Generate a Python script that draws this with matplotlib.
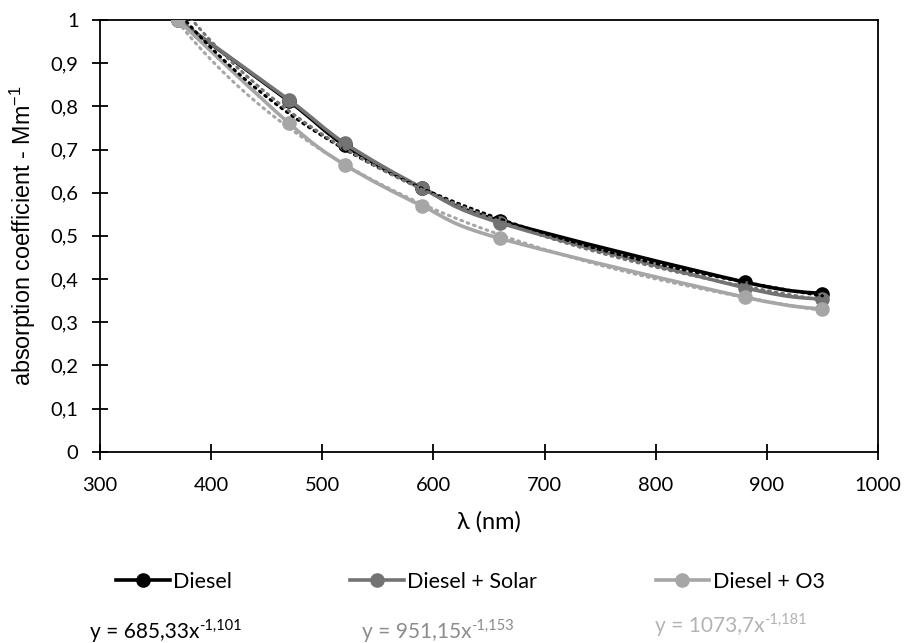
import matplotlib
matplotlib.use("Agg")
import matplotlib.pyplot as plt
from matplotlib.path import Path
from matplotlib.patches import PathPatch
from matplotlib.lines import Line2D
import numpy as np

plt.rcParams['font.family'] = ['Lato', 'DejaVu Sans']
plt.rcParams['mathtext.fontset'] = 'custom'
plt.rcParams['mathtext.rm'] = 'Liberation Sans'

wavelength = [370, 470, 520, 590, 660, 880, 950]
diesel = [1.0, 0.812, 0.710, 0.610, 0.535, 0.393, 0.366]
diesel_solar = [1.0, 0.815, 0.715, 0.611, 0.530, 0.380, 0.353]
diesel_o3 = [1.0, 0.761, 0.665, 0.569, 0.494, 0.358, 0.330]

series_names = ["Diesel", "Diesel + Solar", "Diesel + O3"]
fit_a = [685.33, 951.15, 1073.7]
fit_b = [-1.101, -1.153, -1.181]
fit_labels = ["685,33", "951,15", "1073,7"]
fit_exp_labels = ["-1,101", "-1,153", "-1,181"]

colors = ["#000000", "#737373", "#A6A6A6"]
eq_colors = ["#000000", "#8C8C8C", "#B3B3B3"]


def smooth_path(xv, yv):
    pts = np.column_stack([xv, yv]).astype(float)
    n = len(pts)
    verts = [pts[0]]
    codes = [Path.MOVETO]
    for i in range(n - 1):
        p0 = pts[max(i - 1, 0)]
        p1 = pts[i]
        p2 = pts[i + 1]
        p3 = pts[min(i + 2, n - 1)]
        c1 = p1 + (p2 - p0) / 6.0
        c2 = p2 - (p3 - p1) / 6.0
        verts += [c1, c2, p2]
        codes += [Path.CURVE4] * 3
    return Path(verts, codes)


fig = plt.figure(figsize=(9.06, 6.43), dpi=100)
ax = fig.add_axes([0.1104, 0.2975, 0.8587, 0.6714])

series = [diesel, diesel_solar, diesel_o3]
handles = []
for k, (vals, c, name) in enumerate(zip(series, colors, series_names)):
    patch = PathPatch(smooth_path(wavelength, vals), facecolor='none', edgecolor=c,
                      lw=2.6, transform=ax.transData, zorder=3 + k * 0.1,
                      capstyle='round', joinstyle='round')
    ax.add_patch(patch)
    ax.plot(wavelength, vals, linestyle='none', marker='o', ms=9.5, color=c,
            zorder=3.05 + k * 0.1)
    handles.append(Line2D([], [], color=c, lw=2.6, marker='o', ms=9.5, label=name))

xs = np.linspace(min(wavelength), max(wavelength), 200)
for a, b, c in zip(fit_a, fit_b, colors):
    ax.plot(xs, a * xs ** b, color=c, lw=2.2, linestyle=(0, (0.6, 1.6)),
            dash_capstyle='round', zorder=4)

ax.set_xlim(300, 1000)
ax.set_ylim(0, 1)
ax.set_xticks(np.arange(300, 1001, 100))
ax.set_yticks(np.arange(0, 1.01, 0.1))
ax.set_yticklabels(["0"] + [f"{v:.1f}".replace('.', ',') for v in np.arange(0.1, 0.95, 0.1)] + ["1"])
ax.tick_params(direction='inout', length=11, width=1.3, labelsize=14.5, colors='black')
ax.tick_params(axis='x', pad=13)
ax.tick_params(axis='y', pad=10)
for s in ax.spines.values():
    s.set_linewidth(1.3)
    s.set_color('black')

ax.set_xlabel("λ (nm)", fontsize=17, labelpad=12)
ax.set_ylabel("absorption coefficient - Mm$^{\\mathregular{-1}}$", fontsize=16.8,
              labelpad=9, family=['Liberation Sans', 'DejaVu Sans'])

leg = fig.legend(handles=handles, loc='center', ncol=3,
                 frameon=False, fontsize=15.5, handlelength=2.5, handletextpad=0.15,
                 columnspacing=5.5)
leg.set_bbox_to_anchor((0.519, 1 - 582 / 643), transform=fig.transFigure)

eq_x = [90 / 906, 362 / 906, 655 / 906]
eq_y = [1 - 632 / 643, 1 - 632 / 643, 1 - 626 / 643]
for x, y, lab, ex, c in zip(eq_x, eq_y, fit_labels, fit_exp_labels, eq_colors):
    base = fig.text(x, y, "y = " + lab + "x", color=c, fontsize=15,
                    ha='left', va='center')
    ax.annotate(ex, xy=(1.0, 0.82), xycoords=base, color=c, fontsize=10.5,
                ha='left', va='center', annotation_clip=False)

fig.savefig("out.png", dpi=100)
